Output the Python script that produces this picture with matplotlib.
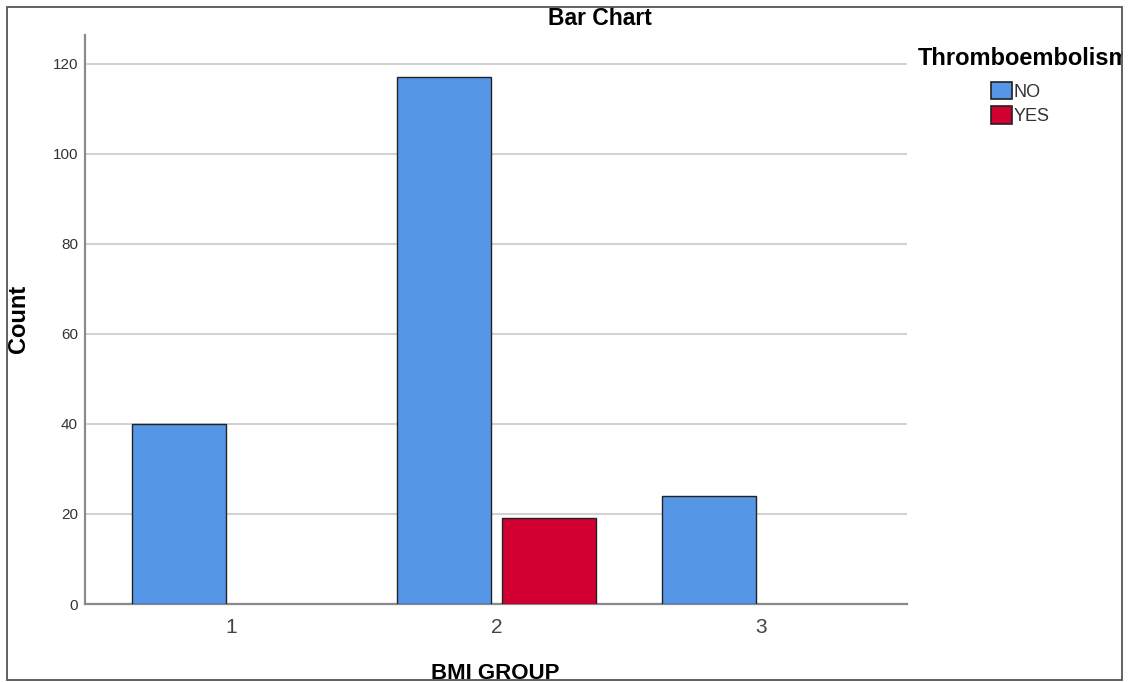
import matplotlib
matplotlib.use("Agg")
import matplotlib.pyplot as plt
from matplotlib.patches import Rectangle, Patch
import numpy as np

categories = ["1", "2", "3"]
no_counts = [40, 117, 24]
yes_counts = [0, 19, 0]
series_labels = ["NO", "YES"]
legend_title = "Thromboembolism"
yticks = [0, 20, 40, 60, 80, 100, 120]

plt.rcParams['font.family'] = ['Liberation Sans', 'DejaVu Sans']

W, H = 1130, 682
fig = plt.figure(figsize=(W / 100, H / 100), dpi=100)
ax = fig.add_axes([85 / W, 1 - 604 / H, (907 - 85) / W, (604 - 35) / H])

x = np.arange(1, len(categories) + 1)
bw = 0.355
off = 0.198
c_no = "#5596E6"
c_yes = "#D20030"
edge = "#222222"
ax.bar(x - off, no_counts, width=bw, color=c_no, edgecolor=edge,
       linewidth=[1.0 if v > 0 else 0 for v in no_counts], zorder=3)
ax.bar(x + off, yes_counts, width=bw, color=c_yes, edgecolor=edge,
       linewidth=[1.0 if v > 0 else 0 for v in yes_counts], zorder=3)

ax.set_xlim(0.447, 3.549)
ax.set_ylim(0, 126.4)
ax.set_yticks(yticks)
ax.set_yticklabels([str(v) for v in yticks], fontsize=11, color="#333333")
ax.set_xticks(x)
ax.set_xticklabels(categories, fontsize=15, color="#444444")
ax.tick_params(axis="y", length=0, pad=5)
ax.tick_params(axis="x", length=0, pad=10)
ax.yaxis.grid(True, color="#d2d2d2", linewidth=1.5, zorder=0)
ax.set_axisbelow(True)
for s in ["top", "right"]:
    ax.spines[s].set_visible(False)
for s in ["left", "bottom"]:
    ax.spines[s].set_color("#8a8a8a")
    ax.spines[s].set_linewidth(1.6)

fig.text(599.5 / W, 1 - 25 / H, "Bar Chart", ha="center", va="baseline", fontsize=16.5, fontweight="bold")
fig.text(25 / W, 1 - 318.5 / H, "Count", ha="center", va="baseline", rotation=90,
         rotation_mode="anchor", fontsize=17, fontweight="bold")
fig.text(495 / W, 1 - 679 / H, "BMI GROUP", ha="center", va="baseline", fontsize=16, fontweight="bold")
fig.text(918 / W, 1 - 65 / H, legend_title, ha="left", va="baseline", fontsize=17, fontweight="bold")

handles = [Patch(facecolor=c_no, edgecolor=edge, linewidth=1.2),
           Patch(facecolor=c_yes, edgecolor=edge, linewidth=1.2)]
leg = fig.legend(handles, series_labels, loc="upper left", bbox_to_anchor=(991 / W, 1 - 82 / H),
                 frameon=False, prop={"size": 13},
                 handlelength=1.15, handleheight=1.1, handletextpad=0.12, labelspacing=0.3,
                 borderpad=0, borderaxespad=0)
for t in leg.get_texts():
    t.set_color("#333333")

# clip beyond right border and draw the frame
fig.patches.append(Rectangle((1123 / W, 0), 1 - 1123 / W, 1, transform=fig.transFigure,
                             facecolor="white", edgecolor="none", zorder=10))
fig.patches.append(Rectangle((7 / W, 1 - 680 / H), (1122 - 7) / W, (680 - 7) / H,
                             transform=fig.transFigure, fill=False, edgecolor="#555555",
                             linewidth=1.3, zorder=11))

fig.savefig("out.png", dpi=100)
